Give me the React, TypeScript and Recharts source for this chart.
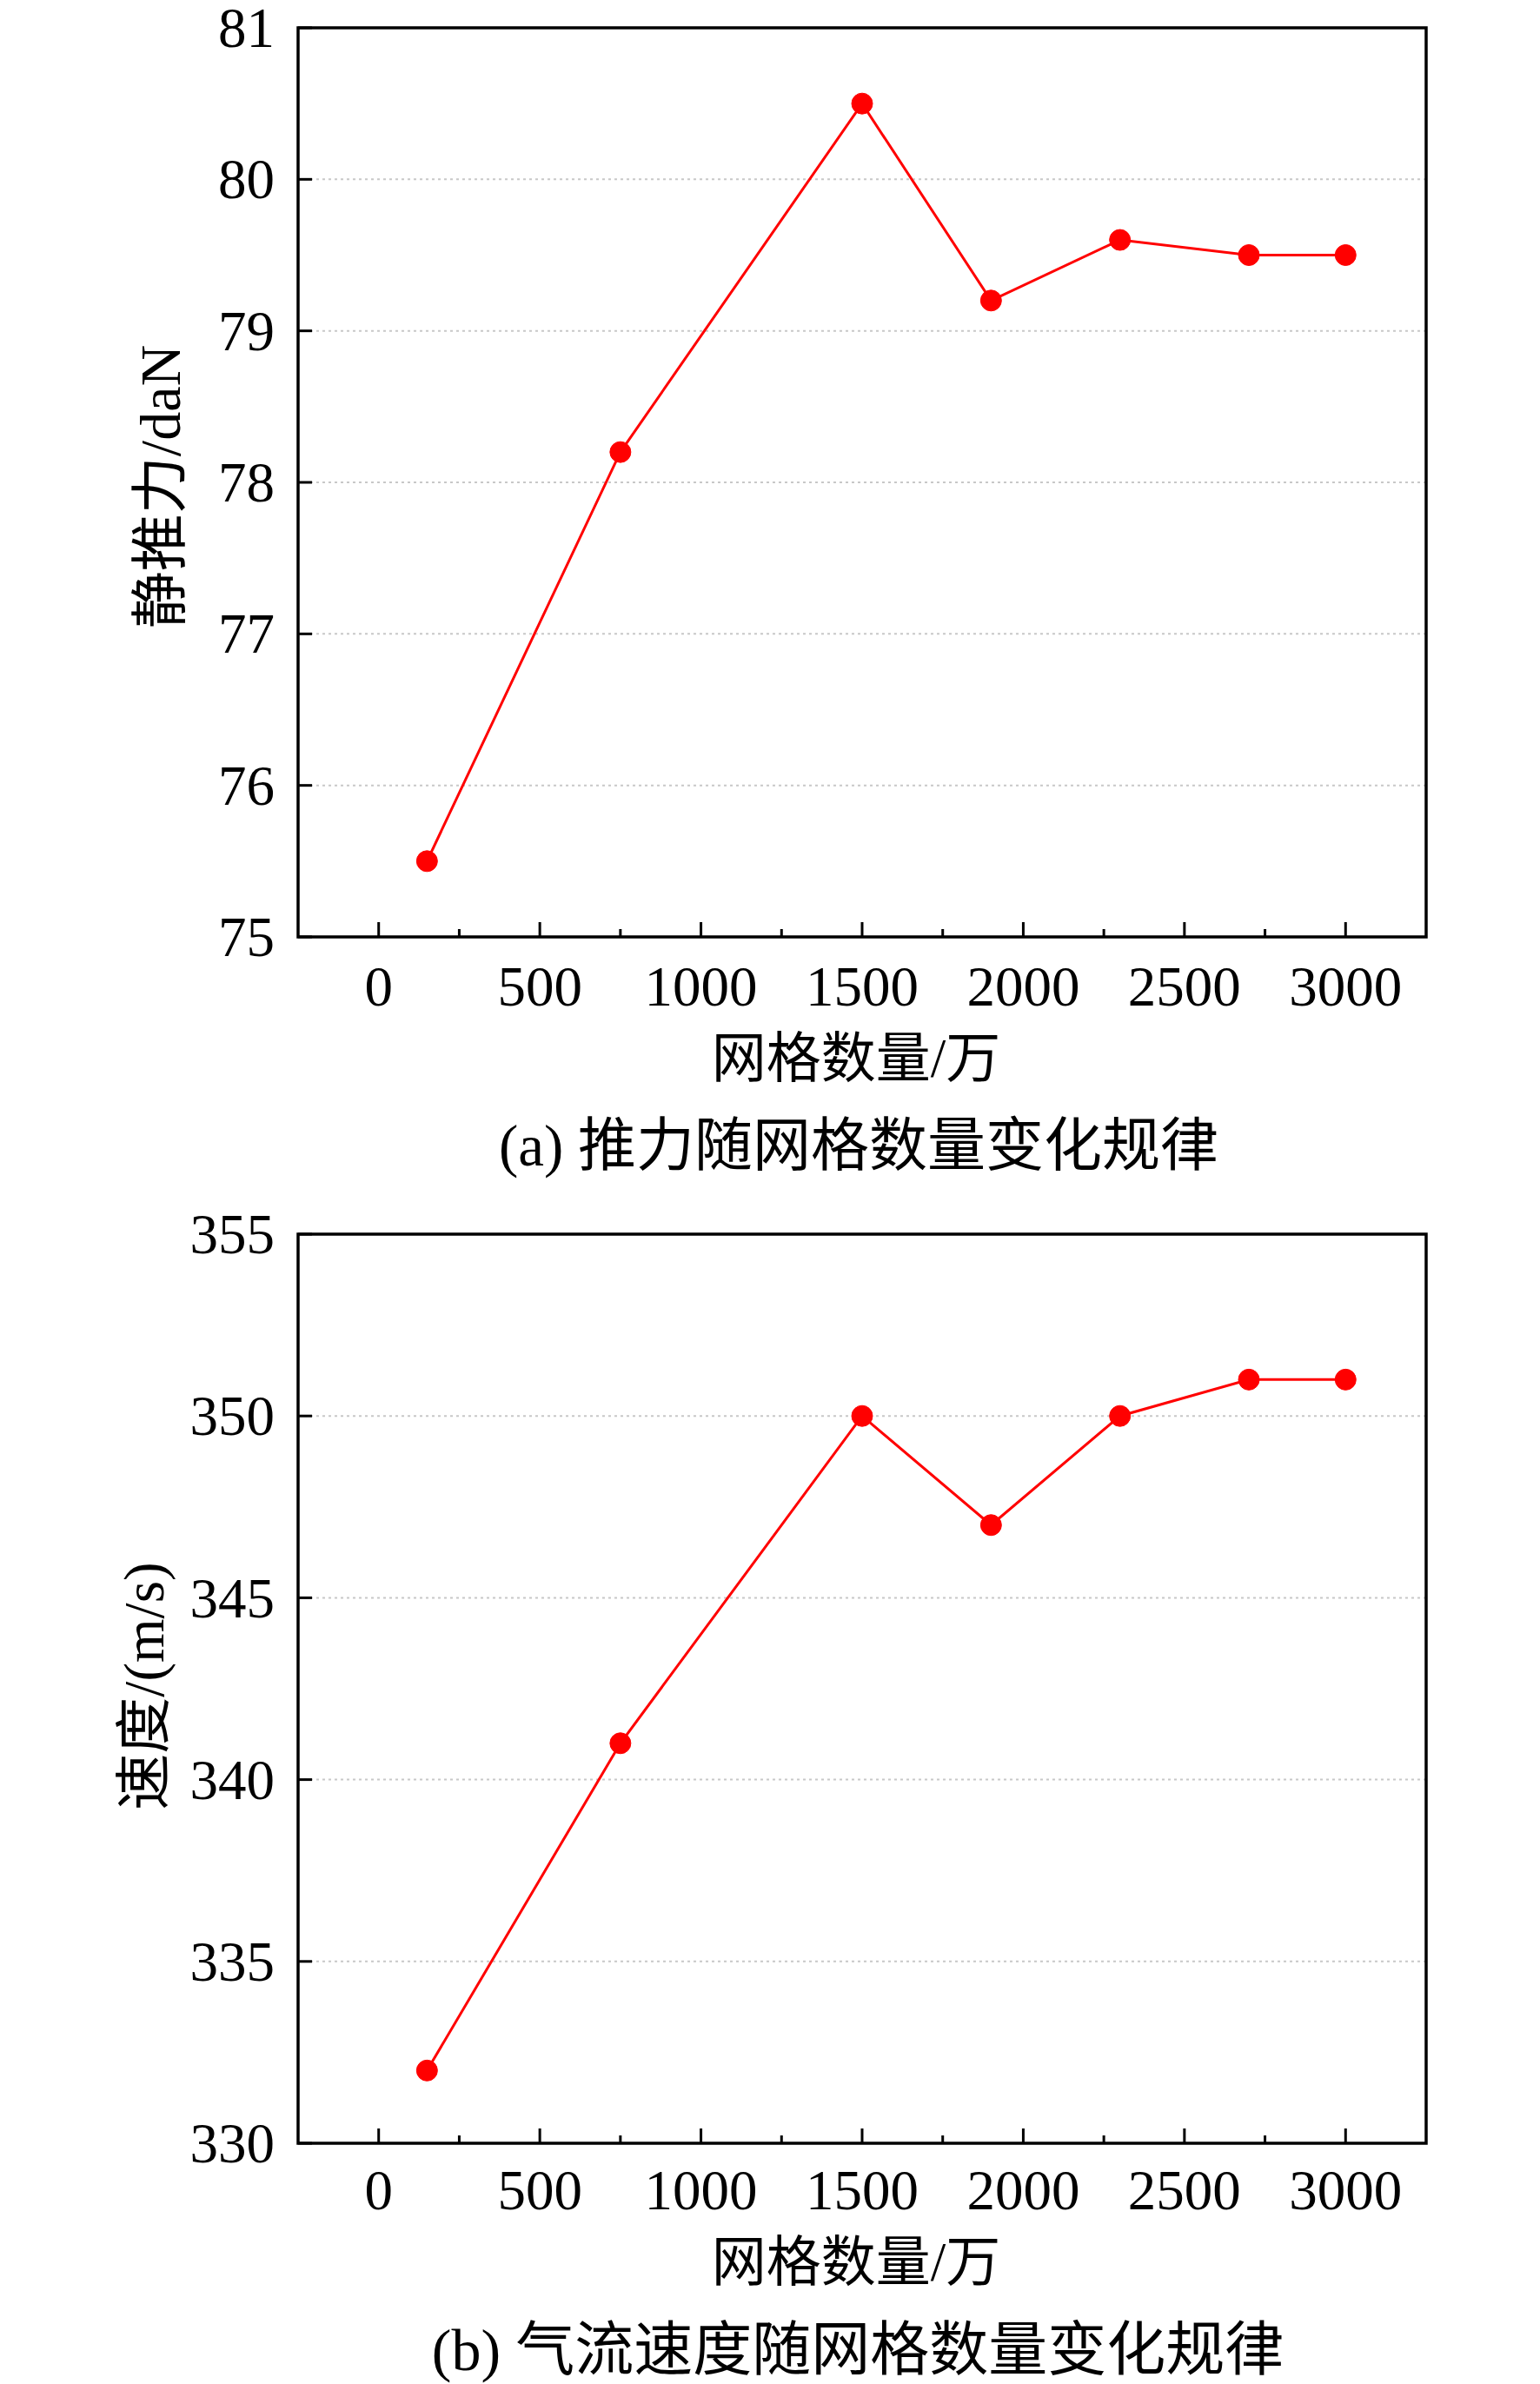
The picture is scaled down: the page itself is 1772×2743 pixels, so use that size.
import React from "react";
import { LineChart, Line, XAxis, YAxis, CartesianGrid, ReferenceArea } from "recharts";

// grid count in units of 10k cells
const gridCounts = [150, 750, 1500, 1900, 2300, 2700, 3000];
const thrust = [75.5, 78.2, 80.5, 79.2, 79.6, 79.5, 79.5];
const velocity = [332, 341, 350, 347, 350, 351, 351];

const xTicks = [0, 250, 500, 750, 1000, 1250, 1500, 1750, 2000, 2250, 2500, 2750, 3000];
const thrustTicks = [75, 76, 77, 78, 79, 80, 81];
const velocityTicks = [330, 335, 340, 345, 350, 355];

const thrustData = gridCounts.map((x, i) => ({ x, y: thrust[i] }));
const velocityData = gridCounts.map((x, i) => ({ x, y: velocity[i] }));

const SERIF = "'Liberation Serif', 'Times New Roman', 'Noto Sans CJK SC', serif";
const W = 1772;
const H = 1240;
const TOP = 92; // plot top inside each chart svg
const YAXIS_W = 100;
const XAXIS_H = 100;

const makeXTick = (labelOffset: number) => (props: any) => {
  const { x, y, payload } = props;
  const major = payload.value % 500 === 0;
  return (
    <g>
      <line x1={x} x2={x} y1={y} y2={y - (major ? 17 : 9)} stroke="#000" strokeWidth={3} />
      {major && (
        <text x={x} y={y + labelOffset} textAnchor="middle" fontFamily={SERIF} fontSize={65} fill="#000">
          {payload.value}
        </text>
      )}
    </g>
  );
};

const YTick = (props: any) => {
  const { x, y, payload } = props;
  return (
    <g>
      <line x1={x} x2={x + 16} y1={y} y2={y} stroke="#000" strokeWidth={3} />
      <text x={x - 27} y={y} dy="0.34em" textAnchor="end" fontFamily={SERIF} fontSize={65} fill="#000">
        {payload.value}
      </text>
    </g>
  );
};

function Panel({ data, ticks, labelOffset }: { data: { x: number; y: number }[]; ticks: number[]; labelOffset: number }) {
  const lo = ticks[0];
  const hi = ticks[ticks.length - 1];
  return (
    <LineChart
      width={W}
      height={H}
      data={data}
      margin={{ top: TOP, right: 131, left: 343 - YAXIS_W, bottom: H - TOP - 1046 - XAXIS_H }}
    >
      <CartesianGrid vertical={false} stroke="#c8c8c8" strokeWidth={2} strokeDasharray="3 4" />
      <XAxis
        type="number"
        dataKey="x"
        domain={[-250, 3250]}
        ticks={xTicks}
        interval={0}
        height={XAXIS_H}
        axisLine={false}
        tickLine={false}
        tickSize={0}
        tickMargin={0}
        tick={makeXTick(labelOffset)}
        allowDataOverflow
      />
      <YAxis
        type="number"
        domain={[lo, hi]}
        ticks={ticks}
        interval={0}
        width={YAXIS_W}
        axisLine={false}
        tickLine={false}
        tickSize={0}
        tickMargin={0}
        tick={YTick}
        allowDataOverflow
      />
      <ReferenceArea
        x1={-250}
        x2={3250}
        y1={lo}
        y2={hi}
        fill="none"
        fillOpacity={0}
        stroke="#000"
        strokeWidth={3.5}
        ifOverflow="visible"
      />
      <Line
        type="linear"
        dataKey="y"
        stroke="#ff0000"
        strokeWidth={3}
        dot={{ r: 12, fill: "#ff0000", stroke: "#ff0000", strokeWidth: 1 }}
        activeDot={false}
        isAnimationActive={false}
      />
    </LineChart>
  );
}

export default function App() {
  return (
    <div style={{ position: "absolute", left: 0, top: 0, width: W, height: 2743, background: "#fff", overflow: "hidden" }}>
      <div style={{ position: "absolute", left: 0, top: 32 - TOP }}>
        <Panel data={thrustData} ticks={thrustTicks} labelOffset={79} />
      </div>
      <div style={{ position: "absolute", left: 0, top: 1420 - TOP }}>
        <Panel data={velocityData} ticks={velocityTicks} labelOffset={76} />
      </div>
      <svg
        width={W}
        height={2743}
        style={{ position: "absolute", left: 0, top: 0, pointerEvents: "none" }}
        fontFamily={SERIF}
        fill="#000"
      >
        <text x={985} y={1218} textAnchor="middle" dominantBaseline="central" fontSize={63}>
          网格数量/万
        </text>
        <text x={988} y={1318} textAnchor="middle" dominantBaseline="central" fontSize={67}>
          (a) 推力随网格数量变化规律
        </text>
        <text
          x={184}
          y={560}
          textAnchor="middle"
          dominantBaseline="central"
          fontSize={66}
          transform="rotate(-90 184 560)"
        >
          静推力/daN
        </text>
        <text x={985} y={2603} textAnchor="middle" dominantBaseline="central" fontSize={63}>
          网格数量/万
        </text>
        <text x={987} y={2704} textAnchor="middle" dominantBaseline="central" fontSize={68}>
          (b) 气流速度随网格数量变化规律
        </text>
        <text
          x={166}
          y={1940}
          textAnchor="middle"
          dominantBaseline="central"
          fontSize={65}
          transform="rotate(-90 166 1940)"
        >
          速度/(m/s)
        </text>
      </svg>
    </div>
  );
}
